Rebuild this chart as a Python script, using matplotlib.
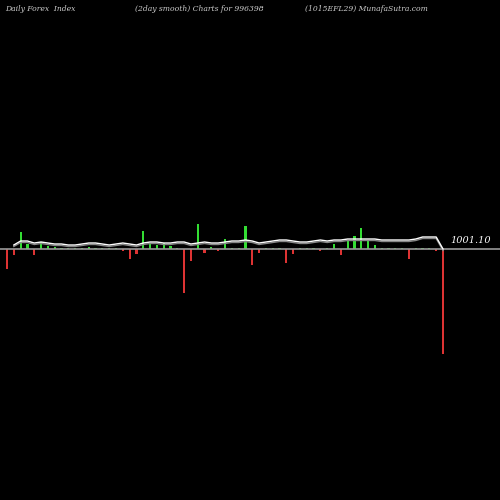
import matplotlib
matplotlib.use("Agg")
import matplotlib.pyplot as plt
import numpy as np

vals = [-20,-6,17,5,-6,7,3,2,1,1,1,1,2,1,1,1,1,-2,-10,-5,18,5,4,6,3,1,-44,-12,25,-4,2,-2,10,1,1,23,-16,-4,1,1,1,-14,-5,1,1,1,-2,1,5,-6,8,13,21,9,4,1,1,1,1,-10,1,1,1,-2,-105]
line = [None,4,8,8,6,7,6,5,5,4,4,5,6,6,5,4,5,6,5,4,6,7,7,6,6,7,7,5,6,7,6,6,7,8,8,9,8,6,7,8,9,9,8,7,7,8,9,8,9,9,10,10,10,10,10,9,9,9,9,9,10,12,12,12,0]
n = len(vals)
xs = np.linspace(7, 443, n)

fig = plt.figure(figsize=(5,5), dpi=100, facecolor="black")
ax = fig.add_axes([0,0,1,1], facecolor="black")
ax.set_xlim(0,500); ax.set_ylim(-251,249)
ax.axis("off")
cols = ["#33dd33" if v>0 else "#dd3333" for v in vals]
ax.bar(xs, vals, width=2.2, color=cols)
ax.axhline(0, color="#999999", lw=1.2)
lx = [x for x,l in zip(xs,line) if l is not None]
ly = [l for l in line if l is not None]
ax.plot(lx, np.array(ly)-1.5, color="#888888", lw=1)
ax.plot(lx, ly, color="white", lw=1)
ax.text(450, 6, "1001.10", color="white", fontsize=7, style="italic", family="DejaVu Serif")
kw = dict(color="#cccccc", fontsize=5.5, style="italic", family="DejaVu Serif", va="top", transform=fig.transFigure)
fig.text(0.01, 0.99, "Daily Forex  Index", **kw)
fig.text(0.27, 0.99, "(2day smooth) Charts for 996398", **kw)
fig.text(0.61, 0.99, "(1015EFL29) MunafaSutra.com", **kw)
fig.savefig("out.png", dpi=100, facecolor="black")
